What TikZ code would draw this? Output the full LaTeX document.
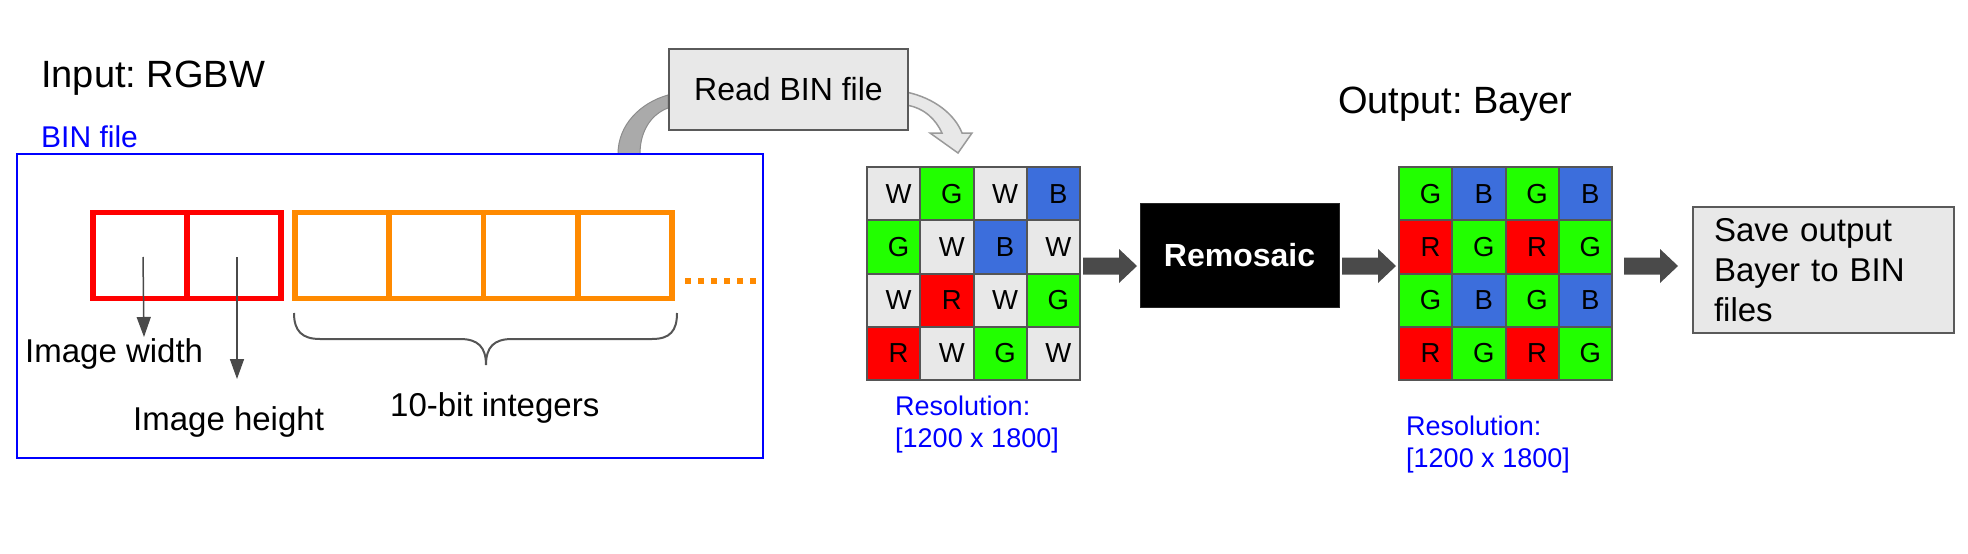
\documentclass[tikz,border=0pt]{standalone}
\usepackage{fontspec}
\setmainfont{Liberation Sans}
\frenchspacing
\usetikzlibrary{arrows.meta,calc}
\definecolor{cellW}{HTML}{E8E8E8}
\definecolor{cellG}{HTML}{22FF00}
\definecolor{cellR}{HTML}{FF0000}
\definecolor{cellB}{HTML}{3C6EDC}
\definecolor{gridline}{HTML}{555555}
\definecolor{boxfill}{HTML}{E8E8E8}
\definecolor{boxline}{HTML}{5A5A5A}
\definecolor{arrowgray}{HTML}{4A4A4A}
\definecolor{orangeC}{HTML}{FF8A00}
\definecolor{redC}{HTML}{FF0000}
\definecolor{bandgray}{HTML}{AAAAAA}
\definecolor{bandline}{HTML}{8C8C8C}
\definecolor{lightband}{HTML}{E8E8E8}
\definecolor{lightline}{HTML}{9A9A9A}
\definecolor{blueC}{HTML}{0000FF}
\newcommand{\bigarrow}[2]{%
  \fill[arrowgray] ($(#1)+(0,-8.5)$) -- ($(#2)+(-18,-8.5)$) -- ($(#2)+(-18,-17)$) -- (#2)
    -- ($(#2)+(-18,17)$) -- ($(#2)+(-18,8.5)$) -- ($(#1)+(0,8.5)$) -- cycle;}
\begin{document}
\begin{tikzpicture}[x=1pt,y=-1pt,
  lbl/.style={inner sep=0pt, anchor=base west},
  cell/.style={rectangle, draw=gridline, line width=2pt, minimum width=53.25pt,
    minimum height=53.25pt, inner sep=0pt, font=\fontsize{27.5}{27.5}\selectfont},
  redcell/.style={rectangle, draw=redC, line width=5.7pt, minimum width=94pt, minimum height=86pt, inner sep=0pt},
  orcell/.style={rectangle, draw=orangeC, line width=5.7pt, minimum width=94.25pt, minimum height=86pt, inner sep=0pt},
  graybox/.style={rectangle, draw=boxline, fill=boxfill, line width=2pt, inner sep=0pt},
  thinarrow/.style={draw=arrowgray, line width=1.5pt, -{Triangle[length=20pt,width=14pt]}},
]
\useasboundingbox (0,0) rectangle (1968,554);

% ---------- texts on the left ----------
\node[lbl, font=\fontsize{38}{44}\selectfont] (intitle) at (41,87) {Input: RGBW};
\node[lbl, text=blueC, font=\fontsize{30}{36}\selectfont] (binlabel) at (41,147) {BIN file};

% ---------- gray curved band from BIN box to Read box ----------
\node[graybox, minimum width=239pt, minimum height=81pt] (readbin) at (788.5,89.5) {};
\fill[bandgray, draw=bandline, line width=1pt]
  (618,154) .. controls (618,125) and (640,103) .. ($(readbin.west)+(0,5.5)$)
  -- ($(readbin.west)+(0,18.5)$) .. controls (652,114) and (640,130) .. (640,154) -- cycle;

% light arrow from Read box to the RGBW grid
\coordinate (lighttip) at (958,153);
\filldraw[fill=lightband, draw=lightline, line width=1.5pt]
  ($(readbin.east)+(-3,2.5)$) .. controls (935,98) and (955,115) .. (962,133)
  -- (972,133) -- (lighttip) -- (930,133) -- (942,133)
  .. controls (936,120) and (925,108) .. ($(readbin.east)+(-3,15.5)$) -- cycle;

\node[graybox, minimum width=239pt, minimum height=81pt, font=\fontsize{32}{32}\selectfont] at (readbin) {Read BIN file};

% ---------- BIN file box ----------
\node[rectangle, draw=blueC, line width=2pt, minimum width=746pt, minimum height=304pt, inner sep=0pt] (binbox) at (390,306) {};

\node[redcell] (wcell) at (140,255.5) {};
\node[redcell] (hcell) at (234,255.5) {};
\foreach \i in {0,1,2,3} {
  \node[orcell] (o\i) at (342.125+94.25*\i,255.5) {};
}
\coordinate (dotsA) at (685,281);
\coordinate (dotsB) at (756,281);
\draw[orangeC, line width=6pt, dash pattern=on 6pt off 7pt] (dotsA) -- (dotsB);

\coordinate (wtip) at (144,337);
\coordinate (htip) at (237,379);
\draw[thinarrow] ($(wcell.center)+(3,1.5)$) -- (wtip);
\draw[thinarrow] ($(hcell.center)+(3,1.5)$) -- (htip);

\node[lbl, font=\fontsize{33}{40}\selectfont] (wlabel) at (25,362) {Image width};
\node[lbl, font=\fontsize{33}{40}\selectfont] (hlabel) at (133,430) {Image height};

% brace
\draw[gridline, line width=2pt]
  (294,313) .. controls (294,331) and (302,339) .. (320,339) -- (460,339)
  .. controls (478,339) and (486,347) .. (486,365)
  .. controls (486,347) and (494,339) .. (512,339) -- (652,339)
  .. controls (670,339) and (677,331) .. (677,313);
\node[lbl, font=\fontsize{33}{40}\selectfont] (intlabel) at (390,416) {10-bit integers};

% ---------- RGBW grid ----------
\node[minimum width=213pt, minimum height=213pt, inner sep=0pt] (gridL) at (973.5,273.5) {};
\foreach \row [count=\r from 0] in {{W,G,W,B},{G,W,B,W},{W,R,W,G},{R,W,G,W}} {
  \foreach \c [count=\k from 0] in \row {
    \node[cell, fill=cell\c] (L\r\k) at (893.625+53.25*\k, 193.625+53.25*\r) {\hspace*{10pt}\c};
  }
}
\node[inner sep=0pt, anchor=north west, align=left, text=blueC, font=\fontsize{27}{32.5}\selectfont] (resL) at (895,395.5) {Resolution:\\{[1200 x 1800]}};

% ---------- Remosaic ----------
\node[rectangle, fill=black, draw=black!85, line width=1pt, minimum width=199pt, minimum height=104pt,
  text=white, font=\bfseries\fontsize{32}{32}\selectfont] (remosaic) at (1239.5,255) {Remosaic};

% ---------- Bayer grid ----------
\node[lbl, font=\fontsize{38}{44}\selectfont] (outtitle) at (1338,113) {Output: Bayer};
\node[minimum width=213pt, minimum height=213pt, inner sep=0pt] (gridR) at (1505.5,273.5) {};
\foreach \row [count=\r from 0] in {{G,B,G,B},{R,G,R,G},{G,B,G,B},{R,G,R,G}} {
  \foreach \c [count=\k from 0] in \row {
    \node[cell, fill=cell\c] (R\r\k) at (1425.625+53.25*\k, 193.625+53.25*\r) {\hspace*{10pt}\c};
  }
}
\node[inner sep=0pt, anchor=north west, align=left, text=blueC, font=\fontsize{27}{32.5}\selectfont] (resR) at (1406,415.5) {Resolution:\\{[1200 x 1800]}};

% ---------- Save box ----------
\node[graybox, minimum width=261pt, minimum height=126pt, text width=219pt, align=left,
  font=\fontsize{33}{40}\selectfont] (save) at (1823.5,270) {Save output\\Bayer to BIN\\files};

% ---------- block arrows ----------
\coordinate (a1s) at (1083,266); \coordinate (a1e) at (1137,266);
\coordinate (a2s) at (1342,266); \coordinate (a2e) at (1396,266);
\coordinate (a3s) at (1624,266); \coordinate (a3e) at (1678,266);
\bigarrow{a1s}{a1e}
\bigarrow{a2s}{a2e}
\bigarrow{a3s}{a3e}
\end{tikzpicture}
\end{document}
